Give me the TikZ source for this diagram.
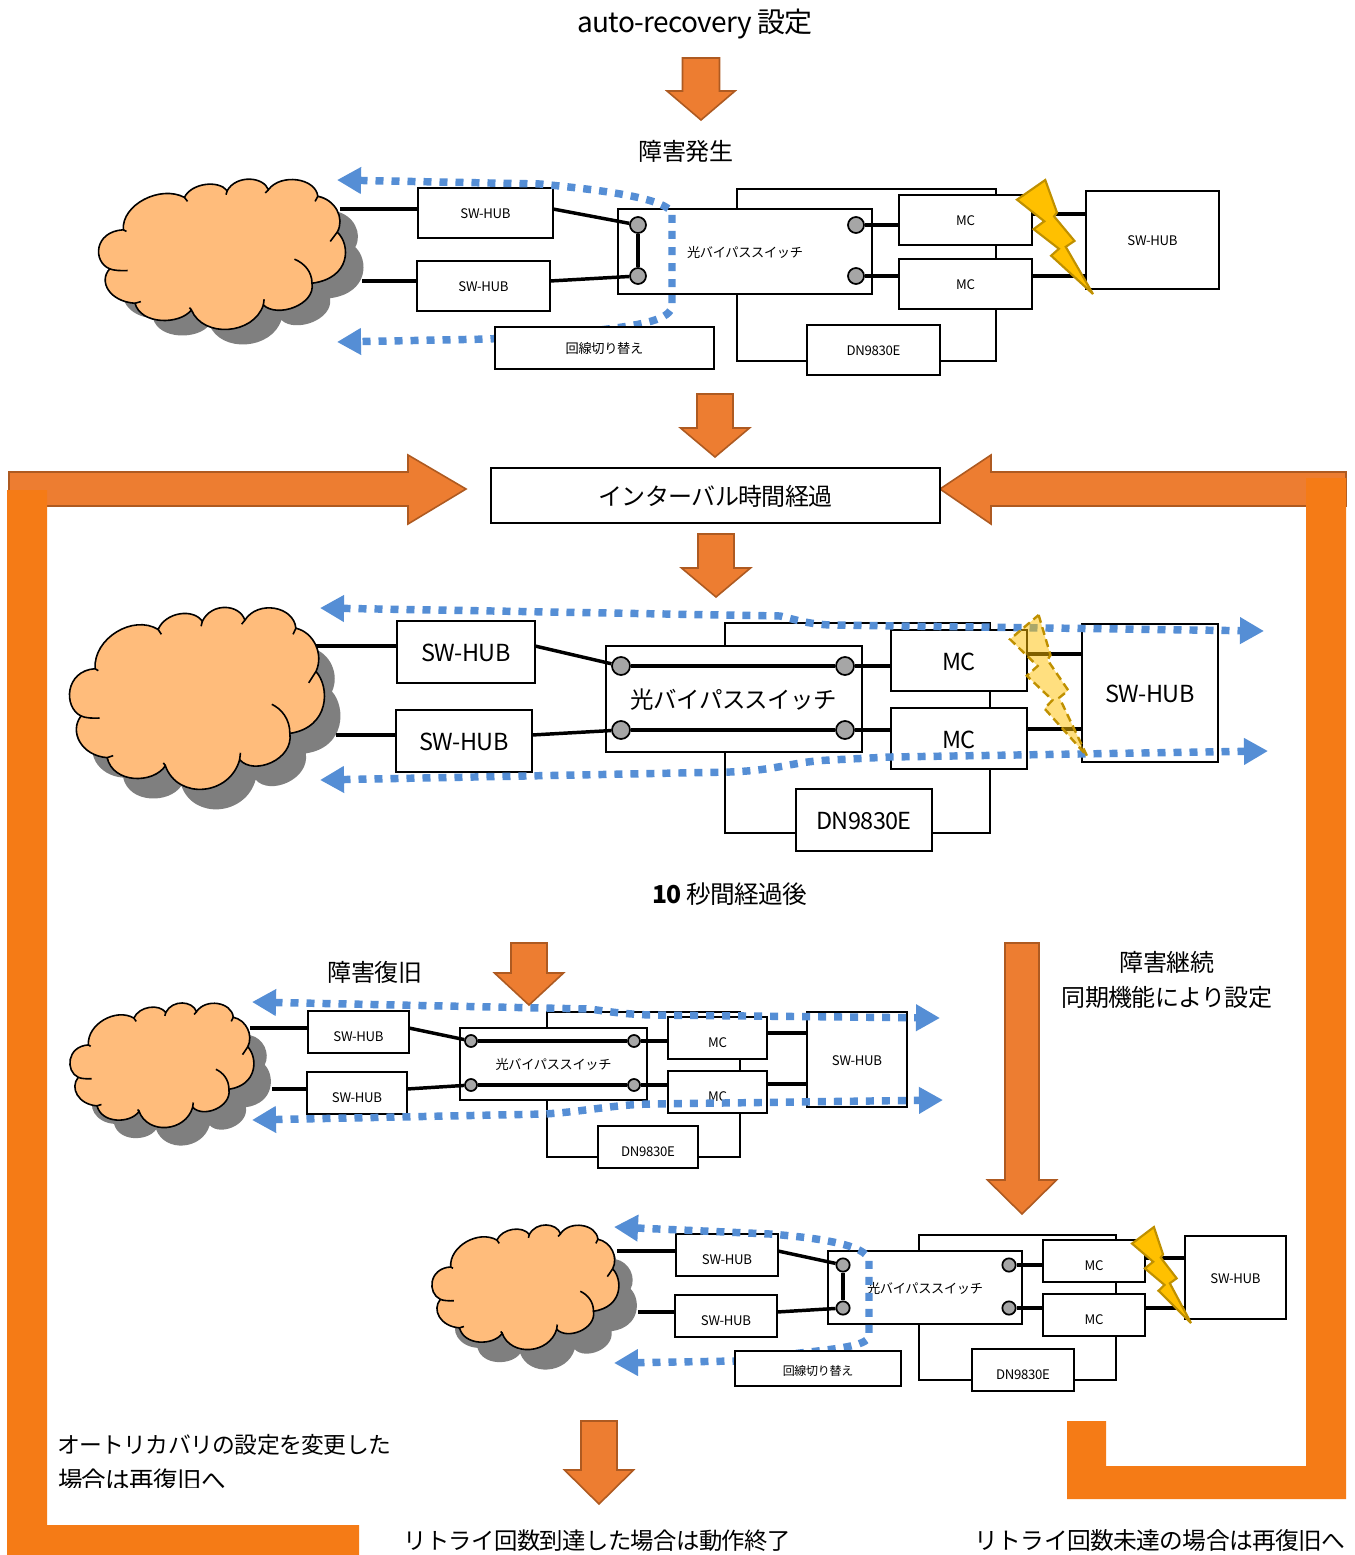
\documentclass[tikz,border=0pt]{standalone}
\usepackage{fontspec}
\setmainfont{Noto Sans CJK JP}
\usetikzlibrary{arrows.meta,calc}
\definecolor{arrowor}{HTML}{ED7D31}
\definecolor{arrowln}{HTML}{AE5A21}
\definecolor{frameor}{HTML}{F57B16}
\definecolor{cloudor}{HTML}{FFBC7B}
\definecolor{cloudgr}{HTML}{7F7F7F}
\definecolor{bluedot}{HTML}{558ED5}
\definecolor{boltfill}{HTML}{FFC000}
\definecolor{boltline}{HTML}{BF9000}
\definecolor{swgray}{HTML}{A6A6A6}
\newcommand\fz[1]{\fontsize{#1}{#1}\selectfont\addfontfeature{LetterSpace=-2.5}}
\newcommand\vc[1]{\raisebox{-0.37em}[0pt][0pt]{#1}}
\newcommand\lo[2]{\raisebox{-#1pt}[0pt][0pt]{\vc{#2}}}
\tikzset{
  boxn/.style={draw=black,fill=white,line width=1.1pt,inner sep=0pt,outer sep=0pt},
  heavybox/.style={line width=1.8pt},
  thinbox/.style={line width=0.9pt},
  wire/.style={draw=black,line width=2.6pt},
  swdot/.style={circle,draw=black,fill=swgray,line width=1.3pt,inner sep=0pt,minimum size=#1},
  bluedash/.style={draw=bluedot,line width=5.6pt,dash pattern=on 6pt off 6pt,
    {Triangle[length=18pt,width=19pt]}-{Triangle[length=18pt,width=19pt]}},
  bigarrow/.style={fill=arrowor,draw=arrowln,line width=1.2pt,line join=miter},
  solidbolt/.style={fill=boltfill,draw=boltline,line width=1.6pt,miter limit=3},
  paleb/.style={fill=boltfill,fill opacity=.5,draw=boltline,draw opacity=1,line width=1.8pt,dash pattern=on 6pt off 3.5pt,miter limit=3},
  tx/.style={inner sep=0pt,outer sep=0pt,text=black},
}
% \rb[opts]{name}{x1}{y1}{x2}{y2}{font pt}{text}
\newcommand\rb[8][]{%
  \node[boxn,#1,minimum width={(#5-#3)*0.75pt},minimum height={(#6-#4)*0.75pt}] (#2) at ({(#3+#5)/2},{(#4+#6)/2}) {\fz{#7}\raisebox{-0.7pt}[0pt][0pt]{#8}};}
\newcommand\lbl[5][]{\node[tx,#1] (#2) at (#3) {\fz{#4}\vc{#5}};}
% down arrow: cx, half shaft, half head, ytop, ybase, ytip
\newcommand\darrow[6]{\draw[bigarrow] ({#1-#2},#4) -- ({#1+#2},#4) -- ({#1+#2},#5) -- ({#1+#3},#5) -- (#1,#6) -- ({#1-#3},#5) -- ({#1-#2},#5) -- cycle;}
\def\cloudoutline{(105,205)
 .. controls (100,130) and (200,70) .. (262,108)
 .. controls (280,65) and (350,55) .. (372,88)
 .. controls (395,40) and (465,45) .. (478,85)
 .. controls (510,35) and (600,50) .. (605,105)
 .. controls (650,115) and (675,170) .. (655,212)
 .. controls (690,250) and (690,350) .. (590,365)
 .. controls (600,430) and (500,470) .. (465,430)
 .. controls (440,520) and (310,530) .. (280,445)
 .. controls (250,490) and (150,490) .. (135,425)
 .. controls (70,420) and (40,360) .. (70,322)
 .. controls (25,300) and (30,210) .. (105,205) -- cycle}
% x y w h gx gy
\newcommand\cloudpic[6]{%
 \begin{scope}[shift={({#1+#5},{#2+#6})},xscale={#3/635},yscale={#4/455},shift={(-45,-50)}]
  \fill[cloudgr] \cloudoutline;
 \end{scope}
 \begin{scope}[shift={(#1,#2)},xscale={#3/635},yscale={#4/455},shift={(-45,-50)}]
  \draw[fill=cloudor,draw=black,line width=1.2pt] \cloudoutline;
  \draw[line width=1.2pt] (105,205) -- (113,210) (262,108) -- (270,120) (372,88) -- (369,100)
   (478,85) -- (470,95) (605,105) -- (598,120) (655,212) -- (637,240)
   (590,365) .. controls (590,330) and (570,305) .. (545,293)
   (465,430) -- (467,413) (280,445) -- (275,438) (135,425) -- (150,420)
   (70,322) .. controls (80,327) and (100,328) .. (116,327);
 \end{scope}}
% x y w h style
\newcommand\bolt[5]{\begin{scope}[shift={(#1,#2)},xscale={#3/78},yscale={#4/116}]
  \path[#5] (29,0) -- (41,33) -- (38,37) -- (59,62) -- (50,68) -- (78,116) -- (35,77) -- (43,70) -- (17,50) -- (28,42) -- (0,20) -- cycle;
 \end{scope}}
\begin{document}
\begin{tikzpicture}[x=.75pt,y=-.75pt]
\useasboundingbox (0,0) rectangle (1355,1555);
\fill[white] (0,0) rectangle (1355,1555);

% ---------- titles
\lbl{t1}{695,22}{21}{auto-recovery 設定}
\darrow{701}{18.5}{34}{58}{91}{120}
\lbl{t2}{686,152}{18}{障害発生}

% ---------- diagram 1
\cloudpic{100}{178}{247}{152}{18}{15}
\rb[thinbox]{bp1}{737}{189}{996}{361}{9.9}{}
\rb{ha1}{418}{188}{553}{238}{9.9}{\vc{SW-HUB}}
\rb{hb1}{417}{261}{550}{311}{9.9}{\vc{SW-HUB}}
\rb[thinbox]{sw1}{618}{209}{872}{294}{9.9}{\vc{光バイパススイッチ}}
\rb{ma1}{899}{195}{1032}{245}{9.9}{\vc{MC}}
\rb{mb1}{899}{259}{1032}{309}{9.9}{\vc{MC}}
\rb{hr1}{1086}{191}{1219}{289}{9.9}{\vc{SW-HUB}}
\rb{dn1}{807}{325}{940}{375}{9.9}{\vc{DN9830E}}
\node[swdot=12pt] (c1a) at (638,225) {};
\node[swdot=12pt] (c1b) at (638,276) {};
\node[swdot=12pt] (c1c) at (856,225) {};
\node[swdot=12pt] (c1d) at (856,276) {};
\coordinate (cl1a) at (340,209);
\coordinate (cl1b) at (362,281);
\draw[wire] (cl1a) -- (cl1a -| ha1.west);
\draw[wire] (cl1b) -- (cl1b -| hb1.west);
\draw[wire] (ha1.east |- cl1a) -- (c1a);
\draw[wire] (hb1.east |- cl1b) -- (c1b);
\draw[wire] (c1a) -- (c1b);
\draw[wire] (c1c) -- (c1c -| ma1.west);
\draw[wire] (c1d) -- (c1d -| mb1.west);
\coordinate (r1a) at (1032,214);
\coordinate (r1b) at (1032,276);
\draw[wire] (r1a) -- (r1a -| hr1.west);
\draw[wire] (r1b) -- (r1b -| hr1.west);
\coordinate (b1s) at (337,180);
\coordinate (b1e) at (337,342);
\draw[bluedash] (b1s) -- (540,184) .. controls (600,190) and (660,197) .. (672,212) -- (672,305) .. controls (672,320) and (640,325) .. (600,330) -- (490,339) -- (b1e);
\rb[heavybox]{sel1}{495}{327}{714}{369}{9.9}{\vc{回線切り替え}}
\bolt{1017}{180}{76}{114}{solidbolt}
\darrow{715}{18}{34.5}{394}{428}{457}

% ---------- interval box and frame
\draw[bigarrow] (9,472) -- (408,472) -- (408,455) -- (466,489) -- (408,524) -- (408,506) -- (9,506) -- cycle;
\draw[bigarrow] (1346,472) -- (991,472) -- (991,455) -- (940,489) -- (991,524) -- (991,506) -- (1346,506) -- cycle;
\fill[frameor] (7,490) -- (47,490) -- (47,1525) -- (359,1525) -- (359,1555) -- (7,1555) -- cycle;
\fill[frameor] (1306,478) -- (1346,478) -- (1346,1499) -- (1067,1499) -- (1067,1421) -- (1106,1421) -- (1106,1466) -- (1306,1466) -- cycle;
\rb[heavybox]{iv}{491}{468}{940}{523}{18}{\vc{インターバル時間経過}}
\darrow{716}{18}{34.5}{534}{568}{597}

% ---------- diagram 2
\cloudpic{71}{606}{255}{184}{16}{20}
\rb[thinbox]{bp2}{725}{623}{990}{833}{17.6}{}
\rb{ha2}{397}{621}{535}{683}{17.6}{\vc{SW-HUB}}
\rb{hb2}{396}{710}{532}{772}{17.6}{\vc{SW-HUB}}
\rb[thinbox]{sw2}{606}{646}{862}{752}{17.6}{\vc{光バイパススイッチ}}
\rb{ma2}{891}{630}{1027}{691}{17.6}{\vc{MC}}
\rb{mb2}{891}{708}{1027}{769}{17.6}{\lo{0.5}{MC}}
\rb{hr2}{1082}{624}{1218}{762}{17.6}{\vc{SW-HUB}}
\rb{dn2}{796}{789}{932}{851}{17.6}{\vc{DN9830E}}
\node[swdot=13.5pt] (c2a) at (621,666) {};
\node[swdot=13.5pt] (c2b) at (621,730) {};
\node[swdot=13.5pt] (c2c) at (845,666) {};
\node[swdot=13.5pt] (c2d) at (845,730) {};
\coordinate (cl2a) at (316,646);
\coordinate (cl2b) at (336,735);
\draw[wire] (cl2a) -- (cl2a -| ha2.west);
\draw[wire] (cl2b) -- (cl2b -| hb2.west);
\draw[wire] (ha2.east |- cl2a) -- (c2a);
\draw[wire] (hb2.east |- cl2b) -- (c2b);
\draw[wire] (c2a) -- (c2c);
\draw[wire] (c2b) -- (c2d);
\draw[wire] (c2c) -- (c2c -| ma2.west);
\draw[wire] (c2d) -- (c2d -| mb2.west);
\coordinate (r2a) at (1027,654);
\coordinate (r2b) at (1027,729);
\draw[wire] (r2a) -- (r2a -| hr2.west);
\draw[wire] (r2b) -- (r2b -| hr2.west);
\coordinate (b2a) at (320,608);
\coordinate (b2b) at (1264,631);
\coordinate (b2c) at (320,780);
\coordinate (b2d) at (1268,751);
\draw[bluedash] (b2a) -- (780,616) .. controls (800,621) and (810,624) .. (830,625) -- (b2b);
\draw[bluedash] (b2c) -- (730,772) .. controls (780,770) and (790,762) .. (830,760) -- (890,757) -- (b2d);
\bolt{1010}{615}{77}{141}{paleb}
\lbl{t3}{730,894}{18.5}{{\bfseries 10} 秒間経過後}

% ---------- diagram 3
\lbl{t4}{375,973}{18}{障害復旧}
\cloudpic{71}{1002}{184}{126}{17}{18}
\rb[thinbox]{bp3}{547}{1012}{740}{1157}{9.9}{}
\rb{ha3}{308}{1011}{409}{1053}{9.9}{\lo{3}{SW-HUB}}
\rb{hb3}{307}{1072}{407}{1114}{9.9}{\lo{3}{SW-HUB}}
\rb[thinbox]{sw3}{460}{1028}{647}{1100}{9.9}{\vc{光バイパススイッチ}}
\rb{ma3}{668}{1017}{767}{1059}{9.9}{\lo{3}{MC}}
\rb{mb3}{668}{1071}{767}{1113}{9.9}{\lo{3}{MC}}
\rb{hr3}{807}{1012}{907}{1107}{9.9}{\vc{SW-HUB}}
\rb{dn3}{598}{1126}{698}{1168}{9.9}{\lo{3}{DN9830E}}
\node[swdot=9pt] (c3a) at (471,1041) {};
\node[swdot=9pt] (c3b) at (471,1085) {};
\node[swdot=9pt] (c3c) at (634,1041) {};
\node[swdot=9pt] (c3d) at (634,1085) {};
\coordinate (cl3a) at (250,1028);
\coordinate (cl3b) at (272,1089);
\draw[wire] (cl3a) -- (cl3a -| ha3.west);
\draw[wire] (cl3b) -- (cl3b -| hb3.west);
\draw[wire] (ha3.east |- cl3a) -- (c3a);
\draw[wire] (hb3.east |- cl3b) -- (c3b);
\draw[wire] (c3a) -- (c3c);
\draw[wire] (c3b) -- (c3d);
\draw[wire] (c3c) -- (c3c -| ma3.west);
\draw[wire] (c3d) -- (c3d -| mb3.west);
\coordinate (r3a) at (767,1033);
\coordinate (r3b) at (767,1084);
\draw[wire] (r3a) -- (r3a -| hr3.west);
\draw[wire] (r3b) -- (r3b -| hr3.west);
\coordinate (b3a) at (252,1002);
\coordinate (b3b) at (940,1018);
\coordinate (b3c) at (252,1120);
\coordinate (b3d) at (943,1100);
\draw[bluedash] (b3a) -- (590,1009) .. controls (610,1012) and (625,1014) .. (650,1015) -- (b3b);
\draw[bluedash] (b3c) -- (545,1114) .. controls (590,1111) and (610,1105) .. (650,1104) -- (b3d);
\darrow{529}{18}{34.5}{943}{973}{1005}

% ---------- long arrow
\darrow{1022}{17}{34.5}{943}{1180}{1214}
\lbl{t5}{1167,963}{18}{障害継続}
\lbl{t6}{1167,998}{18}{同期機能により設定}

% ---------- diagram 4
\cloudpic{433}{1224}{187}{126}{18}{20}
\rb[thinbox]{bp4}{919}{1235}{1116}{1380}{9.9}{}
\rb{ha4}{676}{1234}{778}{1276}{9.9}{\lo{3}{SW-HUB}}
\rb{hb4}{675}{1295}{777}{1337}{9.9}{\lo{3}{SW-HUB}}
\rb[thinbox]{sw4}{828}{1251}{1022}{1324}{9.9}{\vc{光バイパススイッチ}}
\rb{ma4}{1043}{1240}{1145}{1282}{9.9}{\lo{3}{MC}}
\rb{mb4}{1043}{1294}{1145}{1336}{9.9}{\lo{3}{MC}}
\rb{hr4}{1185}{1236}{1286}{1319}{9.9}{\vc{SW-HUB}}
\rb{dn4}{972}{1349}{1074}{1391}{9.9}{\lo{3}{DN9830E}}
\node[swdot=10pt] (c4a) at (843,1265) {};
\node[swdot=10pt] (c4b) at (843,1308) {};
\node[swdot=10pt] (c4c) at (1009,1265) {};
\node[swdot=10pt] (c4d) at (1009,1308) {};
\coordinate (cl4a) at (617,1251);
\coordinate (cl4b) at (638,1312);
\draw[wire] (cl4a) -- (cl4a -| ha4.west);
\draw[wire] (cl4b) -- (cl4b -| hb4.west);
\draw[wire] (ha4.east |- cl4a) -- (c4a);
\draw[wire] (hb4.east |- cl4b) -- (c4b);
\draw[wire] (c4a) -- (c4b);
\draw[wire] (c4c) -- (c4c -| ma4.west);
\draw[wire] (c4d) -- (c4d -| mb4.west);
\coordinate (r4a) at (1145,1258);
\coordinate (r4b) at (1145,1308);
\draw[wire] (r4a) -- (r4a -| hr4.west);
\draw[wire] (r4b) -- (r4b -| hr4.west);
\coordinate (b4s) at (614,1227);
\coordinate (b4e) at (614,1363);
\draw[bluedash] (b4s) -- (770,1234) .. controls (820,1238) and (866,1245) .. (869,1260) -- (869,1335) .. controls (869,1345) and (845,1348) .. (800,1353) -- (735,1361) -- (b4e);
\rb[heavybox]{sel4}{735}{1351}{901}{1386}{9}{\lo{1}{回線切り替え}}
\bolt{1132}{1227}{59}{96}{solidbolt}

% ---------- bottom
\begin{scope}
 \clip (50,1425) rectangle (420,1487);
 \node[tx,anchor=west] (t7) at (57,1445) {\fz{17.1}\vc{オートリカバリの設定を変更した}};
 \node[tx,anchor=west] (t8) at (58,1480) {\fz{18.4}\vc{場合は再復旧へ}};
\end{scope}
\darrow{599}{18}{34.5}{1421}{1470}{1504}
\lbl{t9}{597,1541}{17.5}{リトライ回数到達した場合は動作終了}
\lbl{t10}{1160,1541}{17.8}{リトライ回数未達の場合は再復旧へ}
\end{tikzpicture}
\end{document}
